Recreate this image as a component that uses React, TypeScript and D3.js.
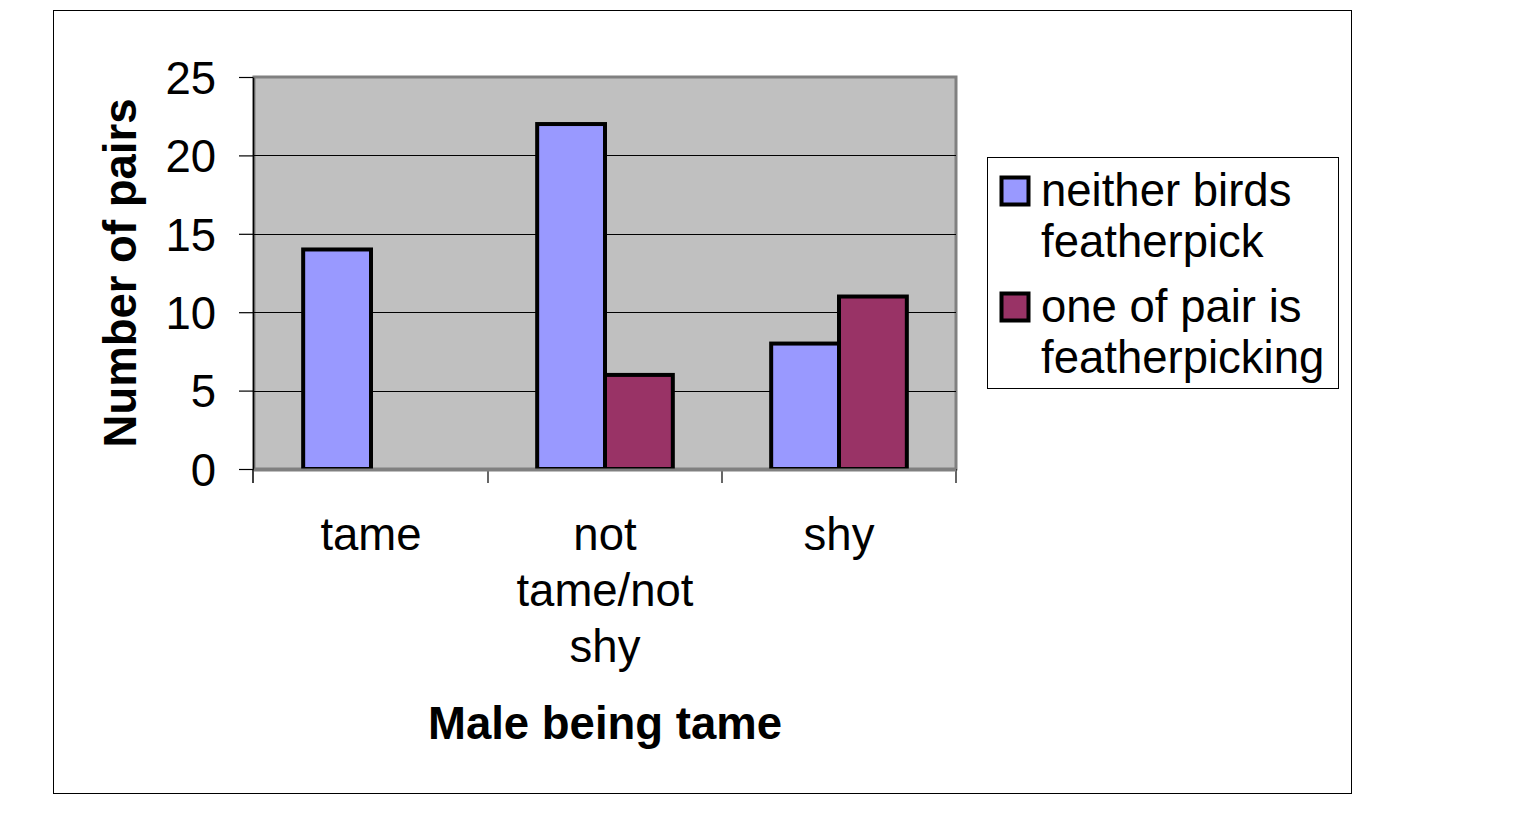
import React, { useEffect, useRef } from "react";
import * as d3 from "d3";

const categories = ["tame", "not tame/not shy", "shy"];
const categoryLines = [["tame"], ["not", "tame/not", "shy"], ["shy"]];
const seriesNames = ["neither birds featherpick", "one of pair is featherpicking"];
const legendLines = [
  ["neither birds", "featherpick"],
  ["one of pair is", "featherpicking"],
];
const neitherValues = [14, 22, 8];
const oneOfPairValues = [0, 6, 11];
const yTicks = [0, 5, 10, 15, 20, 25];
const colors = ["#9999FF", "#993366"];

const FONT = "'Liberation Sans', Arial, sans-serif";
const FS = 45.5;

function App() {
  const svgRef = useRef<SVGSVGElement>(null);

  useEffect(() => {
    if (!svgRef.current) return;
    const svg = d3.select(svgRef.current);
    svg.selectAll("*").remove();

    const plot = { left: 254, right: 956, top: 77, bottom: 469 };

    // outer frame
    svg
      .append("rect")
      .attr("x", 53.5)
      .attr("y", 10.5)
      .attr("width", 1298)
      .attr("height", 783)
      .attr("fill", "white")
      .attr("stroke", "black")
      .attr("stroke-width", 1);

    const x = d3
      .scaleBand<string>()
      .domain(categories)
      .range([plot.left, plot.right])
      .paddingInner(0)
      .paddingOuter(0);

    const xInner = d3
      .scaleBand<string>()
      .domain(seriesNames)
      .range([0, x.bandwidth()])
      .paddingInner(0)
      .paddingOuter(0.725);

    const y = d3.scaleLinear().domain([0, 25]).range([plot.bottom, plot.top]);

    // plot background
    svg
      .append("rect")
      .attr("x", plot.left)
      .attr("y", plot.top)
      .attr("width", plot.right - plot.left)
      .attr("height", plot.bottom - plot.top)
      .attr("fill", "#C0C0C0")
      .attr("stroke", "#808080")
      .attr("stroke-width", 3);

    // gridlines
    svg
      .append("g")
      .selectAll("line")
      .data(yTicks.filter((t) => t > 0 && t < 25))
      .enter()
      .append("line")
      .attr("x1", plot.left)
      .attr("x2", plot.right)
      .attr("y1", (d) => Math.round(y(d)) + 0.5)
      .attr("y2", (d) => Math.round(y(d)) + 0.5)
      .attr("stroke", "black")
      .attr("stroke-width", 1.2);

    // bars
    const seriesValues = [neitherValues, oneOfPairValues];
    seriesNames.forEach((name, si) => {
      svg
        .append("g")
        .selectAll("rect")
        .data(categories.map((c, i) => ({ c, v: seriesValues[si][i] })))
        .enter()
        .filter((d) => d.v > 0)
        .append("rect")
        .attr("x", (d) => (x(d.c) as number) + (xInner(name) as number))
        .attr("y", (d) => y(d.v))
        .attr("width", xInner.bandwidth())
        .attr("height", (d) => y(0) - y(d.v))
        .attr("fill", colors[si])
        .attr("stroke", "black")
        .attr("stroke-width", 4);
    });

    // y axis
    const yAxis = svg
      .append("g")
      .attr("transform", `translate(${plot.left - 1},0)`)
      .call(
        d3
          .axisLeft(y)
          .tickValues(yTicks)
          .tickSize(14)
          .tickSizeOuter(0)
      );
    yAxis.select(".domain").attr("stroke", "black").attr("stroke-width", 1.5);
    yAxis.selectAll(".tick line").attr("stroke", "black").attr("stroke-width", 1.2);
    yAxis
      .selectAll(".tick text")
      .attr("font-family", FONT)
      .attr("font-size", FS)
      .attr("fill", "black")
      .attr("x", -37)
      .attr("dy", "0.36em");

    // x axis line + category separators
    svg
      .append("line")
      .attr("x1", plot.left - 1)
      .attr("x2", plot.left - 1)
      .attr("y1", plot.bottom)
      .attr("y2", plot.bottom + 14)
      .attr("stroke", "black")
      .attr("stroke-width", 1.5);
    const seps = categories.map((c) => x(c) as number).concat([plot.right]);
    svg
      .append("g")
      .selectAll("line")
      .data(seps.slice(1))
      .enter()
      .append("line")
      .attr("x1", (d) => d)
      .attr("x2", (d) => d)
      .attr("y1", plot.bottom)
      .attr("y2", plot.bottom + 14)
      .attr("stroke", "black")
      .attr("stroke-width", 1.2);
    svg
      .append("line")
      .attr("x1", plot.left)
      .attr("x2", plot.right)
      .attr("y1", plot.bottom + 1)
      .attr("y2", plot.bottom + 1)
      .attr("stroke", "#808080")
      .attr("stroke-width", 3);

    // category labels
    categories.forEach((c, i) => {
      const t = svg
        .append("text")
        .attr("x", (x(c) as number) + x.bandwidth() / 2)
        .attr("y", 550)
        .attr("text-anchor", "middle")
        .attr("font-family", FONT)
        .attr("font-size", FS)
        .attr("fill", "black");
      categoryLines[i].forEach((line, li) => {
        t.append("tspan")
          .attr("x", (x(c) as number) + x.bandwidth() / 2)
          .attr("dy", li === 0 ? 0 : 56)
          .text(line);
      });
    });

    // axis titles
    svg
      .append("text")
      .attr("x", (plot.left + plot.right) / 2)
      .attr("y", 739)
      .attr("text-anchor", "middle")
      .attr("font-family", FONT)
      .attr("font-size", FS)
      .attr("font-weight", "bold")
      .text("Male being tame");

    svg
      .append("text")
      .attr("transform", `translate(136, ${(plot.top + plot.bottom) / 2}) rotate(-90)`)
      .attr("text-anchor", "middle")
      .attr("font-family", FONT)
      .attr("font-size", FS)
      .attr("font-weight", "bold")
      .text("Number of pairs");

    // legend
    const legend = svg.append("g");
    legend
      .append("rect")
      .attr("x", 987.5)
      .attr("y", 157.5)
      .attr("width", 351)
      .attr("height", 231)
      .attr("fill", "white")
      .attr("stroke", "black")
      .attr("stroke-width", 1);

    legendLines.forEach((lines, i) => {
      const top = 176 + i * 116;
      legend
        .append("rect")
        .attr("x", 1001.5)
        .attr("y", top + 1.5)
        .attr("width", 27)
        .attr("height", 27)
        .attr("fill", colors[i])
        .attr("stroke", "black")
        .attr("stroke-width", 4);
      const t = legend
        .append("text")
        .attr("x", 1041)
        .attr("y", top + 30)
        .attr("font-family", FONT)
        .attr("font-size", FS)
        .attr("fill", "black");
      lines.forEach((line, li) => {
        t.append("tspan")
          .attr("x", 1041)
          .attr("dy", li === 0 ? 0 : 51)
          .text(line);
      });
    });
  }, []);

  return (
    <svg
      ref={svgRef}
      width={1521}
      height={821}
      style={{ position: "absolute", left: 0, top: 0, background: "white" }}
    ></svg>
  );
}

export default App;
